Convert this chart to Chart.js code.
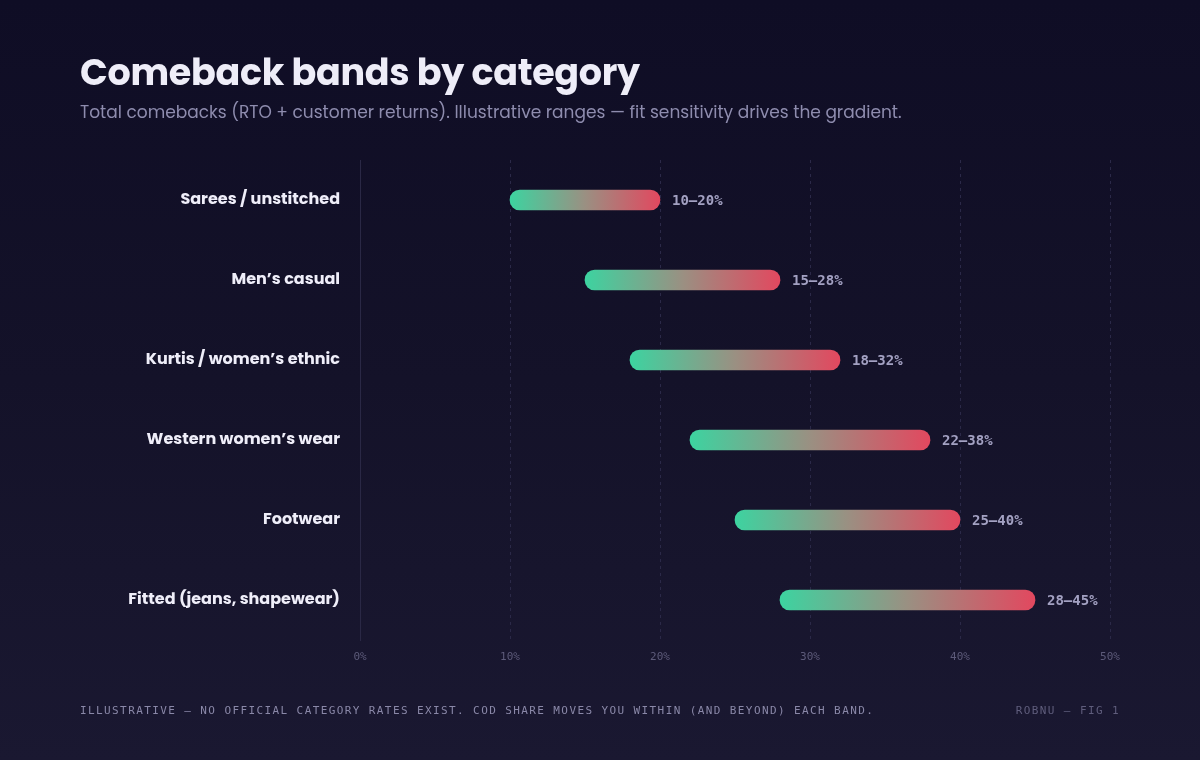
<!DOCTYPE html>
<html>
<head>
<meta charset="utf-8">
<script src="https://cdn.jsdelivr.net/npm/chart.js@4.4.1/dist/chart.umd.min.js"></script>
<style>
  html, body { margin: 0; padding: 0; }
  body {
    width: 1200px; height: 760px; overflow: hidden; position: relative;
    background: linear-gradient(180deg, #0f0d25 0%, #141229 50%, #1a1831 100%);
    font-family: "Poppins", "Inter", "Noto Sans", sans-serif;
  }
  #wrap { position: absolute; left: 0; top: 0; width: 1200px; height: 760px; }
  h1 {
    position: absolute; left: 80px; top: 45px; margin: 0;
    font-size: 36.5px; font-weight: 700; color: #eeedf8; letter-spacing: -0.3px;
  }
  .sub {
    position: absolute; left: 80px; top: 99px; margin: 0;
    font-size: 17px; color: #8e8cae; font-weight: 400;
  }
  .foot {
    position: absolute; top: 704px; font-family: "DejaVu Sans Mono", monospace;
    font-size: 11px; letter-spacing: 1.4px;
  }
</style>
</head>
<body>
<div id="wrap"><canvas id="myChart" width="1200" height="760"></canvas></div>
<h1>Comeback bands by category</h1>
<p class="sub">Total comebacks (RTO + customer returns). Illustrative ranges — fit sensitivity drives the gradient.</p>
<div class="foot" style="left:80px;color:#8a88a8;">ILLUSTRATIVE — NO OFFICIAL CATEGORY RATES EXIST. COD SHARE MOVES YOU WITHIN (AND BEYOND) EACH BAND.</div>
<div class="foot" style="right:80px;color:#5f5d7c;">ROBNU — FIG 1</div>
<script>
// categories and their low / high comeback rates (%)
const categories = [
  "Sarees / unstitched",
  "Men’s casual",
  "Kurtis / women’s ethnic",
  "Western women’s wear",
  "Footwear",
  "Fitted (jeans, shapewear)"
];
const lowValues = [10, 15, 18, 22, 25, 28];
const highValues = [20, 28, 32, 38, 40, 45];
const xTicks = [0, 10, 20, 30, 40, 50];

// gradient from green to red along each bar
function barFill(c) {
  const chart = c.chart;
  if (c.raw === undefined || !chart.chartArea) return "#3dd3a0";
  const xs = chart.scales.x;
  const x0 = xs.getPixelForValue(c.raw[0]);
  const x1 = xs.getPixelForValue(c.raw[1]);
  const g = chart.ctx.createLinearGradient(x0, 0, x1, 0);
  g.addColorStop(0, "#3dd3a0");
  g.addColorStop(0.5, "#9a9082");
  g.addColorStop(1, "#e2485f");
  return g;
}

// draw the "10–20%" labels after the bars
const rangeLabels = {
  id: "rangeLabels",
  afterDatasetsDraw(chart) {
    const ctx = chart.ctx;
    const bars = chart.getDatasetMeta(0).data;
    ctx.save();
    ctx.font = "bold 14px 'DejaVu Sans Mono', monospace";
    ctx.fillStyle = "#a3a1c2";
    ctx.textBaseline = "middle";
    bars.forEach(function (bar, i) {
      ctx.fillText(lowValues[i] + "–" + highValues[i] + "%", bar.x + 12, bar.y + 1);
    });
    ctx.restore();
  }
};

const ctx = document.getElementById('myChart').getContext('2d');
const myChart = new Chart(ctx, {
  type: 'bar',
  data: {
    labels: categories,
    datasets: [{
      data: lowValues.map(function (v, i) { return [v, highValues[i]]; }),
      backgroundColor: barFill,
      borderSkipped: false,
      borderRadius: 10,
      barThickness: 20
    }]
  },
  options: {
    indexAxis: 'y',
    responsive: false,
    animation: false,
    layout: { padding: { left: 0, right: 90, top: 160, bottom: 90 } },
    plugins: { legend: { display: false }, tooltip: { enabled: false } },
    scales: {
      x: {
        min: 0, max: 50,
        afterFit: function (s) { s.height = 30; },
        afterBuildTicks: function (s) { s.ticks = xTicks.map(function (v) { return { value: v }; }); },
        border: { display: false, dash: [3, 4] },
        grid: {
          color: function (c) { return c.tick && c.tick.value === 0 ? 'rgba(0,0,0,0)' : '#2b2948'; },
          tickLength: 0,
          drawTicks: false
        },
        ticks: {
          color: '#5d5b7a',
          padding: 11,
          font: { family: "'DejaVu Sans Mono', monospace", size: 11 },
          callback: function (v) { return v + '%'; }
        }
      },
      y: {
        afterFit: function (s) { s.width = 360; },
        border: { display: true, color: '#2a2845', width: 1 },
        grid: { display: false, drawTicks: false },
        ticks: {
          color: '#efeef9',
          padding: 20,
          font: { family: "'Poppins', 'Inter', 'Noto Sans', sans-serif", size: 16, weight: 'bold' }
        }
      }
    }
  },
  plugins: [rangeLabels]
});
</script>
</body>
</html>
